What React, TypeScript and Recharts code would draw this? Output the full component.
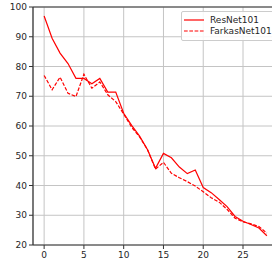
import { LineChart, Line, XAxis, YAxis, CartesianGrid, Legend, ReferenceLine } from "recharts";

const epochs = [0, 1, 2, 3, 4, 5, 6, 7, 8, 9, 10, 11, 12, 13, 14, 15, 16, 17, 18, 19, 20, 21, 22, 23, 24, 25, 26, 27, 28];
const resnet101 = [97, 89.5, 84.5, 81, 76, 76, 74.2, 76, 71.4, 71.4, 64.3, 60.2, 56.6, 52, 45.8, 50.8, 49.3, 46.2, 44, 45.2, 39.3, 37.6, 35.3, 32.9, 29.6, 28, 26.9, 25.7, 23.1];
const farkasNet101 = [77, 72.2, 76.4, 71, 69.9, 77.4, 72.7, 74.8, 70.5, 68.2, 64, 59.6, 56.3, 52, 45.5, 47.8, 44.1, 42.6, 41.3, 39.8, 37.9, 35.9, 34.4, 32, 29, 27.8, 27.1, 26.2, 24];
const xTicks = [0, 5, 10, 15, 20, 25];
const yTicks = [20, 30, 40, 50, 60, 70, 80, 90, 100];

const data = epochs.map((e, i) => ({ epoch: e, resnet: resnet101[i], farkas: farkasNet101[i] }));

const tickStyle = { fontSize: 9, fill: "#262626", fontFamily: "DejaVu Sans" };
const legendItems = [
  { name: "ResNet101", dash: undefined },
  { name: "FarkasNet101", dash: "3.7 1.6" },
];

function LegendBox() {
  return (
    <div
      style={{
        border: "1px solid #cccccc",
        borderRadius: 2,
        background: "rgba(255,255,255,0.85)",
        padding: "2px 4px 3px 2px",
        fontFamily: "DejaVu Sans",
        fontSize: 9,
        color: "#262626",
      }}
    >
      {legendItems.map((it) => (
        <div key={it.name} style={{ display: "flex", alignItems: "center", height: 11.3 }}>
          <svg width={20} height={6} style={{ marginRight: 6 }}>
            <line x1={0} y1={3} x2={20} y2={3} stroke="#ff0000" strokeWidth={1.2} strokeDasharray={it.dash} />
          </svg>
          <span>{it.name}</span>
        </div>
      ))}
    </div>
  );
}

export default function App() {
  return (
    <div style={{ position: "absolute", left: 0, top: 0, width: 272, height: 259, overflow: "hidden", background: "#fff" }}>
      <LineChart width={290} height={259} data={data} margin={{ top: 7, right: 12, bottom: 0, left: 0 }}>
        <CartesianGrid stroke="#c4c4c4" strokeWidth={1} />
        <XAxis
          dataKey="epoch"
          type="number"
          domain={[-1.4, 29.4]}
          ticks={xTicks}
          allowDataOverflow
          height={14}
          tickSize={4}
          tickMargin={3}
          tick={tickStyle}
          stroke="#333"
          axisLine={{ stroke: "#333", strokeWidth: 1.1 }}
          tickLine={{ stroke: "#333" }}
        />
        <YAxis
          type="number"
          domain={[20, 100]}
          ticks={yTicks}
          allowDataOverflow
          width={33}
          tickSize={4}
          tickMargin={2}
          tick={tickStyle}
          axisLine={{ stroke: "#333", strokeWidth: 1.2 }}
          tickLine={{ stroke: "#333" }}
        />
        <ReferenceLine y={100} stroke="#333" strokeWidth={1.2} />
        <Legend
          layout="vertical"
          align="center"
          verticalAlign="middle"
          wrapperStyle={{ left: 181, top: 11, width: "auto" }}
          content={() => <LegendBox />}
        />
        <Line type="linear" dataKey="resnet" name="ResNet101" stroke="#ff0000" strokeWidth={1.2} dot={false} isAnimationActive={false} />
        <Line type="linear" dataKey="farkas" name="FarkasNet101" stroke="#ff0000" strokeWidth={1.2} strokeDasharray="3.7 1.6" dot={false} isAnimationActive={false} />
      </LineChart>
    </div>
  );
}
